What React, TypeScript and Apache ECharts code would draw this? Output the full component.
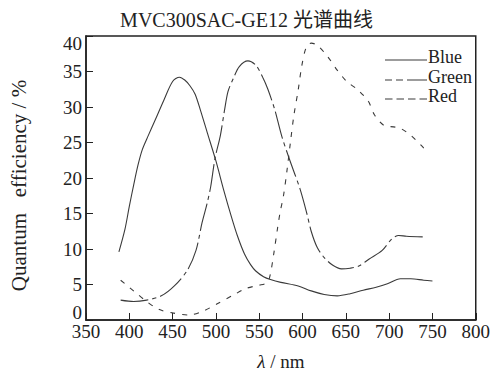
import React, { useEffect, useRef } from "react";
import * as echarts from "echarts";

const titleText = "MVC300SAC-GE12 光谱曲线";
const seriesNames = ["Blue", "Green", "Red"];

const blueData: [number, number][] = [
  [388, 9.6], [395, 12.8], [400, 16], [405, 19], [410, 21.8], [415, 24], [422, 26],
  [430, 28.2], [440, 31], [450, 33.6], [458, 34.2], [464, 33.8], [470, 33], [476, 31.8],
  [482, 29.6], [490, 26.4], [500, 22.4], [509, 18.3], [518, 14.5], [525, 11.8],
  [533, 9.3], [540, 7.8], [546, 6.9], [555, 6.1], [563, 5.7], [575, 5.3], [595, 4.8],
  [610, 4.1], [625, 3.6], [640, 3.4], [655, 3.7], [670, 4.2], [685, 4.6], [698, 5.1],
  [713, 5.8], [725, 5.8], [740, 5.6], [750, 5.5],
];

const greenData: [number, number][] = [
  [390, 2.8], [405, 2.6], [420, 2.8], [437, 3.4], [452, 4.8], [467, 7.0], [477, 9.8],
  [484, 13.7], [490, 16.5], [494, 18.8], [499, 22.8], [505, 25.9], [510, 29.6],
  [514, 32.2], [520, 34], [527, 35.7], [537, 36.5], [546, 35.9], [554, 34.2],
  [560, 32.5], [568, 29.6], [576, 25.9], [585, 22.6], [597, 18.5], [605, 15],
  [610, 12.5], [617, 10.2], [625, 8.8], [635, 7.7], [645, 7.2], [655, 7.3],
  [665, 7.6], [677, 8.6], [692, 9.8], [703, 11.4], [711, 11.9], [720, 11.8], [740, 11.7],
];

const redData: [number, number][] = [
  [390, 5.6], [400, 4.6], [407, 3.9], [419, 2.7], [434, 1.5], [450, 1.0], [469, 0.7],
  [486, 1.3], [501, 2.25], [520, 3.5], [535, 4.45], [550, 4.9], [558, 5.2], [562, 6],
  [567, 9.5], [571, 12.8], [574, 15.1], [578, 17.5], [582, 21], [586, 25], [590, 28.8],
  [595, 32.4], [599, 35.7], [604, 38.3], [610, 39], [617, 38.7], [629, 37.1],
  [640, 35.2], [651, 33.6], [664, 32.4], [676, 30.8], [683, 28.9], [694, 27.4],
  [705, 27.2], [713, 27], [726, 25.9], [740, 24.2],
];

const xMin = 350;
const xMax = 800;
const xStep = 50;
const yMin = 0;
const yMax = 40;
const yStep = 5;

const FONT = "Liberation Serif, DejaVu Serif, Noto Sans CJK SC, serif";
const INK = "#222";
const LINE = "#3a3a3a";

const curveDash: any[] = ["solid", [28, 4, 4, 4], [5, 7]];
const legendDash: any[] = [null, [7, 4, 7, 4, 20, 4], [7.5, 4]];

export default function App() {
  const ref = useRef<HTMLDivElement>(null);
  useEffect(() => {
    if (!ref.current) return;
    const chart = echarts.init(ref.current, null, { renderer: "svg" });
    const datas = [blueData, greenData, redData];
    const legendLineY = [60, 80, 99];
    const legendTextY = [57, 76.5, 95.5];
    const legendGraphics: any[] = [];
    seriesNames.forEach((n, i) => {
      legendGraphics.push({
        type: "line",
        shape: { x1: 385, y1: legendLineY[i], x2: 427, y2: legendLineY[i] },
        style: { stroke: LINE, lineWidth: 1.2, lineDash: legendDash[i] || undefined },
        silent: true,
      });
      legendGraphics.push({
        type: "text",
        x: 428,
        y: legendTextY[i],
        style: {
          text: n,
          fontFamily: FONT,
          fontSize: 18,
          fill: INK,
          verticalAlign: "middle",
          align: "left",
        },
        silent: true,
      });
    });
    chart.setOption({
      animation: false,
      backgroundColor: "#fff",
      title: {
        text: titleText,
        left: "center",
        top: 5,
        textStyle: { fontFamily: FONT, fontSize: 20, fontWeight: "normal", color: INK },
      },
      graphic: legendGraphics,
      grid: {
        left: 79,
        right: 14,
        top: 36,
        bottom: 55,
        show: true,
        borderColor: INK,
        borderWidth: 1.5,
      },
      xAxis: {
        type: "value",
        min: xMin,
        max: xMax,
        interval: xStep,
        name: "{i|λ} / nm",
        nameLocation: "middle",
        nameGap: 32,
        nameTextStyle: {
          fontFamily: FONT,
          fontSize: 19,
          color: INK,
          rich: { i: { fontFamily: FONT, fontSize: 19, fontStyle: "italic", color: INK } },
        },
        axisLine: { lineStyle: { color: INK, width: 1.5 } },
        axisTick: { inside: true, length: 7, lineStyle: { color: INK } },
        axisLabel: { margin: 5, fontFamily: FONT, fontSize: 19, color: INK, lineHeight: 14 },
        splitLine: { show: false },
      },
      yAxis: {
        type: "value",
        min: yMin,
        max: yMax,
        interval: yStep,
        name: "Quantum   efficiency / %",
        nameLocation: "middle",
        nameGap: 57,
        nameTextStyle: { fontFamily: FONT, fontSize: 21, color: INK, padding: [0, 15, 0, 0] },
        axisLine: { lineStyle: { color: INK, width: 1.5 } },
        axisTick: { inside: true, length: 7, lineStyle: { color: INK } },
        axisLabel: {
          margin: 4,
          fontFamily: FONT,
          fontSize: 19,
          color: INK,
          lineHeight: 14,
          verticalAlignMinLabel: "bottom",
          verticalAlignMaxLabel: "top",
        },
        splitLine: { show: false },
      },
      series: seriesNames.map((n, i) => ({
        name: n,
        type: "line",
        data: datas[i],
        smooth: 0.3,
        symbol: "none",
        showSymbol: false,
        color: LINE,
        lineStyle: { color: LINE, width: 1.1, type: curveDash[i] },
      })),
    });
    return () => chart.dispose();
  }, []);
  return (
    <div
      ref={ref}
      style={{ position: "fixed", left: 0, top: 0, width: 493, height: 376 }}
    />
  );
}
